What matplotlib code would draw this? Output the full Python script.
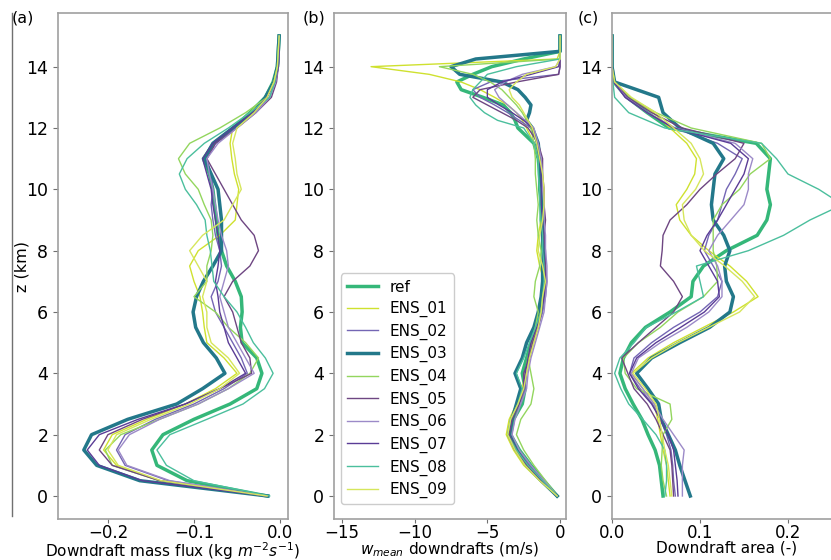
import numpy as np
import matplotlib
matplotlib.use("Agg")
import matplotlib.pyplot as plt
from matplotlib.lines import Line2D

plt.rcParams['font.size'] = 11

# height levels (km)
z_ac = [0.0, 0.5, 1.0, 1.5, 2.0, 2.5, 3.0, 3.5, 4.0, 4.5, 5.0, 5.5, 6.0, 6.5, 7.0, 7.5,
        8.0, 8.5, 9.0, 9.5, 10.0, 10.5, 11.0, 11.5, 12.0, 12.5, 13.0, 13.5, 14.0, 14.5, 15.0]
z_b = [0.0, 0.5, 1.0, 1.5, 2.0, 2.5, 3.0, 3.5, 4.0, 4.5, 5.0, 5.5, 6.0, 6.5, 7.0, 7.5,
       8.0, 8.5, 9.0, 9.5, 10.0, 10.5, 11.0, 11.5, 12.0,
       12.25, 12.5, 12.75, 13.0, 13.25, 13.5, 13.75, 14.0, 14.25, 14.5, 15.0]

labels = ['ref', 'ENS_01', 'ENS_02', 'ENS_03', 'ENS_04', 'ENS_05',
          'ENS_06', 'ENS_07', 'ENS_08', 'ENS_09']
colors = ['#35b779', '#cfe12f', '#7466b4', '#23788a', '#93d65e', '#6e4682',
          '#9c8ac8', '#5a3c96', '#4bbf9d', '#d6e65c']
widths = [2.5, 1, 1, 2.5, 1, 1, 1, 1, 1, 1]

# (a) downdraft mass flux (kg m-2 s-1)
ref_a = [-0.015, -0.108, -0.143, -0.149, -0.136, -0.100, -0.058, -0.027, -0.021, -0.027, -0.044, -0.046, -0.044, -0.045, -0.052, -0.062,
         -0.068, -0.072, -0.074, -0.076, -0.078, -0.082, -0.089, -0.077, -0.054, -0.035, -0.017, -0.008, -0.003, -0.002, -0.001]
ens01_a = [-0.015, -0.140, -0.190, -0.205, -0.195, -0.155, -0.110, -0.075, -0.050, -0.065, -0.085, -0.088, -0.090, -0.093, -0.100, -0.105,
           -0.095, -0.070, -0.052, -0.050, -0.048, -0.053, -0.056, -0.058, -0.055, -0.035, -0.017, -0.008, -0.003, -0.002, -0.001]
ens02_a = [-0.015, -0.130, -0.180, -0.190, -0.180, -0.145, -0.100, -0.065, -0.038, -0.045, -0.055, -0.065, -0.075, -0.080, -0.072, -0.068,
           -0.070, -0.075, -0.078, -0.080, -0.078, -0.080, -0.085, -0.075, -0.052, -0.030, -0.012, -0.005, -0.002, -0.001, -0.001]
ens03_a = [-0.014, -0.163, -0.213, -0.228, -0.219, -0.177, -0.120, -0.090, -0.064, -0.074, -0.089, -0.098, -0.101, -0.097, -0.089, -0.078,
           -0.068, -0.068, -0.068, -0.070, -0.072, -0.080, -0.088, -0.078, -0.055, -0.031, -0.017, -0.007, -0.003, -0.002, -0.001]
ens04_a = [-0.015, -0.140, -0.195, -0.203, -0.185, -0.140, -0.095, -0.060, -0.035, -0.025, -0.040, -0.060, -0.075, -0.100, -0.085, -0.085,
           -0.080, -0.078, -0.080, -0.088, -0.095, -0.110, -0.118, -0.105, -0.070, -0.040, -0.015, -0.007, -0.003, -0.002, -0.001]
ens05_a = [-0.015, -0.140, -0.195, -0.210, -0.200, -0.160, -0.110, -0.070, -0.033, -0.035, -0.045, -0.050, -0.055, -0.065, -0.055, -0.035,
           -0.025, -0.030, -0.045, -0.055, -0.065, -0.075, -0.085, -0.075, -0.050, -0.028, -0.010, -0.004, -0.002, -0.001, -0.001]
ens06_a = [-0.015, -0.128, -0.178, -0.188, -0.175, -0.140, -0.095, -0.060, -0.030, -0.040, -0.050, -0.060, -0.065, -0.070, -0.065, -0.060,
           -0.062, -0.068, -0.072, -0.075, -0.078, -0.082, -0.085, -0.072, -0.050, -0.028, -0.012, -0.005, -0.002, -0.001, -0.001]
ens07_a = [-0.014, -0.160, -0.210, -0.224, -0.210, -0.165, -0.110, -0.070, -0.040, -0.050, -0.060, -0.065, -0.070, -0.072, -0.075, -0.072,
           -0.070, -0.072, -0.075, -0.078, -0.080, -0.085, -0.090, -0.078, -0.055, -0.032, -0.015, -0.006, -0.002, -0.001, -0.001]
ens08_a = [-0.012, -0.100, -0.132, -0.143, -0.128, -0.085, -0.043, -0.018, -0.008, -0.017, -0.031, -0.040, -0.050, -0.065, -0.077, -0.079,
           -0.081, -0.085, -0.087, -0.097, -0.110, -0.117, -0.108, -0.088, -0.060, -0.035, -0.012, -0.006, -0.003, -0.002, -0.001]
ens09_a = [-0.015, -0.138, -0.188, -0.200, -0.190, -0.150, -0.105, -0.070, -0.047, -0.060, -0.080, -0.085, -0.085, -0.090, -0.085, -0.095,
           -0.105, -0.090, -0.065, -0.055, -0.045, -0.050, -0.052, -0.055, -0.050, -0.030, -0.015, -0.007, -0.003, -0.002, -0.001]

# (b) mean downdraft velocity (m/s)
ref_b = [-0.2, -1.1, -2.0, -2.8, -3.4, -3.2, -2.6, -2.4, -2.6, -2.3, -2.0, -1.7, -1.3, -1.2, -1.1, -1.1, -1.2, -1.2, -1.3, -1.3,
         -1.4, -1.4, -1.5, -1.8, -2.9, -3.1, -3.4, -3.9, -5.3, -6.8, -7.1, -6.0, -4.7, -2.5, 0.0, 0.0]
ens01_b = [-0.2, -1.4, -2.5, -3.2, -3.7, -3.5, -3.0, -2.6, -2.4, -2.2, -1.9, -1.6, -1.4, -1.3, -1.1, -1.4, -1.6, -1.5, -1.3, -1.2,
           -1.2, -1.3, -1.5, -1.8, -2.3, -2.6, -3.0, -3.6, -4.5, -5.5, -6.8, -9.0, -13.0, -0.2, 0.0, 0.0]
ens02_b = [-0.2, -1.2, -2.1, -2.9, -3.4, -3.3, -2.8, -2.4, -2.3, -2.1, -1.8, -1.5, -1.2, -1.0, -0.9, -1.0, -1.1, -1.1, -1.1, -1.2,
           -1.2, -1.3, -1.4, -1.6, -2.0, -2.8, -3.6, -4.5, -5.5, -6.0, -4.8, -0.1, 0.0, 0.0, 0.0, 0.0]
ens03_b = [-0.2, -1.3, -2.3, -3.0, -3.5, -3.3, -3.0, -2.7, -3.1, -2.6, -2.3, -1.8, -1.5, -1.3, -1.2, -1.2, -1.1, -1.2, -1.2, -1.2,
           -1.3, -1.3, -1.4, -1.5, -1.9, -2.3, -2.1, -2.0, -2.4, -2.9, -4.0, -6.9, -7.5, -5.8, 0.0, 0.0]
ens04_b = [-0.2, -1.0, -1.8, -2.5, -3.0, -2.7, -2.0, -1.8, -2.0, -2.2, -2.0, -1.7, -1.5, -1.8, -1.7, -1.4, -1.3, -1.5, -1.6, -1.5,
           -1.6, -1.7, -1.7, -1.8, -2.0, -2.3, -2.6, -3.0, -3.5, -4.0, -4.8, -6.0, -8.3, 0.0, 0.0, 0.0]
ens05_b = [-0.2, -1.2, -2.2, -3.0, -3.5, -3.3, -2.8, -2.5, -2.5, -2.1, -1.9, -1.5, -1.3, -1.1, -1.0, -1.0, -1.0, -1.1, -1.0, -1.1,
           -1.1, -1.2, -1.2, -1.5, -2.2, -3.0, -4.0, -5.0, -6.0, -5.5, -3.0, -0.1, 0.0, 0.0, 0.0, 0.0]
ens06_b = [-0.2, -1.1, -2.0, -2.8, -3.3, -3.1, -2.7, -2.3, -2.2, -2.0, -1.7, -1.4, -1.1, -1.0, -0.9, -0.9, -1.0, -1.0, -1.1, -1.1,
           -1.2, -1.2, -1.3, -1.5, -1.8, -2.4, -3.0, -3.6, -4.2, -4.5, -3.8, -2.6, -0.3, 0.0, 0.0, 0.0]
ens07_b = [-0.2, -1.3, -2.3, -3.1, -3.6, -3.4, -2.9, -2.5, -2.4, -2.2, -2.0, -1.6, -1.3, -1.1, -1.0, -1.1, -1.2, -1.2, -1.2, -1.3,
           -1.3, -1.3, -1.4, -1.6, -1.9, -2.5, -3.3, -4.2, -5.0, -5.0, -4.0, -2.0, -0.1, 0.0, 0.0, 0.0]
ens08_b = [-0.2, -1.2, -2.2, -3.0, -3.6, -3.4, -2.9, -2.6, -3.0, -2.5, -2.1, -1.7, -1.3, -1.2, -1.1, -1.1, -1.2, -1.2, -1.3, -1.4,
           -1.4, -1.5, -1.5, -1.8, -2.5, -4.3, -5.2, -5.8, -6.2, -6.0, -5.5, -5.0, -3.0, 0.0, 0.0, 0.0]
ens09_b = [-0.2, -1.4, -2.4, -3.1, -3.6, -3.4, -2.9, -2.5, -2.3, -2.1, -1.8, -1.5, -1.3, -1.2, -1.0, -1.2, -1.5, -1.4, -1.2, -1.1,
           -1.1, -1.2, -1.4, -1.6, -1.9, -2.2, -2.5, -2.8, -3.3, -3.5, -3.0, -2.3, -0.3, 0.0, 0.0, 0.0]

# (c) downdraft area fraction (-)
ref_c = [0.058, 0.056, 0.054, 0.049, 0.041, 0.034, 0.024, 0.015, 0.009, 0.013, 0.022, 0.038, 0.066, 0.090, 0.092, 0.104,
         0.130, 0.165, 0.176, 0.180, 0.176, 0.178, 0.180, 0.164, 0.065, 0.040, 0.017, 0.002, 0.0, 0.0, 0.0]
ens01_c = [0.066, 0.064, 0.062, 0.058, 0.055, 0.052, 0.048, 0.035, 0.022, 0.041, 0.070, 0.104, 0.138, 0.166, 0.153, 0.134,
           0.110, 0.090, 0.077, 0.073, 0.085, 0.094, 0.096, 0.085, 0.066, 0.047, 0.020, 0.002, 0.0, 0.0, 0.0]
ens02_c = [0.072, 0.070, 0.069, 0.067, 0.062, 0.055, 0.046, 0.032, 0.020, 0.025, 0.045, 0.070, 0.100, 0.120, 0.125, 0.115,
           0.105, 0.110, 0.120, 0.125, 0.130, 0.140, 0.148, 0.120, 0.070, 0.040, 0.015, 0.002, 0.0, 0.0, 0.0]
ens03_c = [0.089, 0.083, 0.077, 0.072, 0.064, 0.056, 0.053, 0.041, 0.028, 0.045, 0.077, 0.111, 0.134, 0.138, 0.130, 0.128,
           0.134, 0.127, 0.115, 0.113, 0.115, 0.117, 0.127, 0.115, 0.077, 0.058, 0.053, 0.003, 0.0, 0.0, 0.0]
ens04_c = [0.062, 0.058, 0.056, 0.057, 0.058, 0.068, 0.066, 0.028, 0.015, 0.013, 0.030, 0.055, 0.075, 0.104, 0.120, 0.119,
           0.115, 0.115, 0.115, 0.125, 0.145, 0.157, 0.180, 0.170, 0.090, 0.050, 0.020, 0.003, 0.0, 0.0, 0.0]
ens05_c = [0.070, 0.069, 0.068, 0.066, 0.058, 0.050, 0.040, 0.025, 0.018, 0.011, 0.030, 0.050, 0.070, 0.080, 0.070, 0.055,
           0.057, 0.058, 0.066, 0.085, 0.100, 0.119, 0.140, 0.150, 0.080, 0.045, 0.018, 0.002, 0.0, 0.0, 0.0]
ens06_c = [0.080, 0.080, 0.080, 0.082, 0.070, 0.058, 0.048, 0.035, 0.022, 0.030, 0.055, 0.085, 0.110, 0.125, 0.125, 0.120,
           0.110, 0.120, 0.135, 0.150, 0.155, 0.155, 0.160, 0.140, 0.072, 0.040, 0.016, 0.002, 0.0, 0.0, 0.0]
ens07_c = [0.075, 0.074, 0.072, 0.070, 0.064, 0.055, 0.045, 0.030, 0.020, 0.028, 0.050, 0.078, 0.105, 0.122, 0.120, 0.110,
           0.100, 0.108, 0.120, 0.130, 0.140, 0.150, 0.155, 0.135, 0.070, 0.040, 0.015, 0.002, 0.0, 0.0, 0.0]
ens08_c = [0.060, 0.062, 0.062, 0.060, 0.050, 0.035, 0.019, 0.010, 0.003, 0.009, 0.025, 0.039, 0.073, 0.104, 0.100, 0.096,
           0.155, 0.195, 0.225, 0.262, 0.235, 0.200, 0.187, 0.170, 0.060, 0.019, 0.003, 0.001, 0.0, 0.0, 0.0]
ens09_c = [0.068, 0.066, 0.064, 0.060, 0.057, 0.054, 0.050, 0.038, 0.024, 0.045, 0.075, 0.110, 0.145, 0.162, 0.148, 0.128,
           0.105, 0.090, 0.082, 0.080, 0.095, 0.104, 0.100, 0.090, 0.070, 0.050, 0.022, 0.003, 0.0, 0.0, 0.0]

series_a = [ref_a, ens01_a, ens02_a, ens03_a, ens04_a, ens05_a, ens06_a, ens07_a, ens08_a, ens09_a]
series_b = [ref_b, ens01_b, ens02_b, ens03_b, ens04_b, ens05_b, ens06_b, ens07_b, ens08_b, ens09_b]
series_c = [ref_c, ens01_c, ens02_c, ens03_c, ens04_c, ens05_c, ens06_c, ens07_c, ens08_c, ens09_c]

W, H = 831, 560
fig = plt.figure(figsize=(W / 100, H / 100), dpi=100)

def px_axes(left, right, top=13, bottom=519):
    return fig.add_axes([left / W, 1 - bottom / H, (right - left) / W, (bottom - top) / H])

ax_a = px_axes(58, 288)
ax_b = px_axes(334, 566)
ax_c = px_axes(612, 842)

for ax, data, z in [(ax_a, series_a, z_ac), (ax_b, series_b, z_b), (ax_c, series_c, z_ac)]:
    for lab, col, lw, vals in zip(labels, colors, widths, data):
        ax.plot(vals, z, color=col, lw=lw, label=lab)
    ax.set_ylim(-0.75, 15.75)
    ax.set_yticks([0, 2, 4, 6, 8, 10, 12, 14])
    for sp in ax.spines.values():
        sp.set_color('#a0a0a0')
        sp.set_linewidth(1.2)
    ax.tick_params(color='#707070', labelsize=12.5, length=3.5)
    ax.tick_params(axis='x', labelsize=12, length=3, pad=0.5)
    ax.xaxis.set_label_coords(0.5, -0.043)

ax_a.set_xlim(-0.258, 0.0093)
ax_a.set_xticks([-0.2, -0.1, 0.0])
ax_a.set_xlabel('Downdraft mass flux (kg $m^{-2}s^{-1}$)', fontsize=11)
ax_a.set_ylabel('z (km)', fontsize=11.5)
ax_a.yaxis.set_label_coords(-0.125, 0.5)

ax_b.set_xlim(-15.55, 0.41)
ax_b.set_xticks([-15, -10, -5, 0])
ax_b.set_xlabel('$w_{mean}$ downdrafts (m/s)', fontsize=11)
ax_b.legend(loc='lower left', bbox_to_anchor=(0.01, 0.02), fontsize=11,
            edgecolor='#cccccc', framealpha=1, borderaxespad=0.3, labelspacing=0.42)

ax_c.set_xlim(0, 0.2614)
ax_c.set_xticks([0.0, 0.1, 0.2])
ax_c.set_xlabel('Downdraft area (-)', fontsize=11)

fig.text(12 / W, 1 - 18 / H, '(a)', va='center', ha='left', fontsize=11.5)
fig.text(303 / W, 1 - 18 / H, '(b)', va='center', ha='left', fontsize=11.5)
fig.text(578 / W, 1 - 18 / H, '(c)', va='center', ha='left', fontsize=11.5)

fig.add_artist(Line2D([11.5 / W, 11.5 / W], [1 - 13 / H, 1 - 516 / H], color='#707070', lw=1))

fig.savefig('out.png', dpi=100)
